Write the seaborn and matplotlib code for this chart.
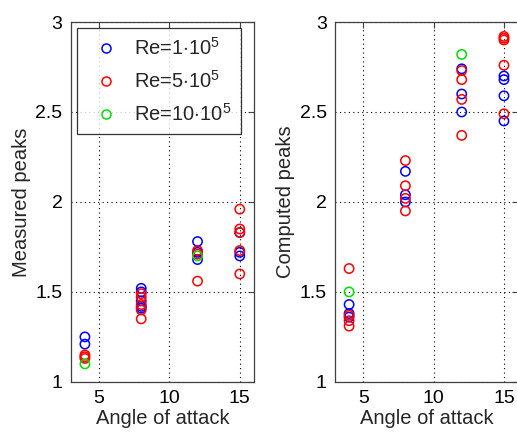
import numpy as np
import pandas as pd
import matplotlib
matplotlib.use("Agg")
import matplotlib.pyplot as plt
from matplotlib.lines import Line2D
import seaborn as sns

# Measured peaks (left panel)
meas_x_re1 = [4, 4, 8, 8, 8, 8, 8, 12, 12, 12, 15, 15, 15]
meas_y_re1 = [1.25, 1.21, 1.52, 1.50, 1.45, 1.42, 1.41, 1.78, 1.72, 1.68, 1.83, 1.72, 1.70]
meas_x_re5 = [4, 4, 4, 8, 8, 8, 8, 8, 12, 12, 12, 15, 15, 15, 15, 15]
meas_y_re5 = [1.15, 1.14, 1.13, 1.49, 1.47, 1.43, 1.40, 1.35, 1.73, 1.71, 1.56, 1.96, 1.85, 1.83, 1.73, 1.60]
meas_x_re10 = [4, 12]
meas_y_re10 = [1.10, 1.70]

# Computed peaks (right panel)
comp_x_re1 = [4, 4, 4, 8, 8, 8, 12, 12, 12, 15, 15, 15, 15]
comp_y_re1 = [1.43, 1.38, 1.36, 2.17, 2.04, 2.00, 2.74, 2.60, 2.50, 2.70, 2.68, 2.59, 2.45]
comp_x_re5 = [4, 4, 4, 4, 8, 8, 8, 8, 12, 12, 12, 12, 15, 15, 15, 15, 15]
comp_y_re5 = [1.63, 1.37, 1.34, 1.31, 2.23, 2.09, 2.02, 1.95, 2.73, 2.68, 2.57, 2.37, 2.92, 2.91, 2.90, 2.76, 2.49]
comp_x_re10 = [4, 12]
comp_y_re10 = [1.50, 2.82]

series = [r"Re=1$\cdot$10$^5$", r"Re=5$\cdot$10$^5$", r"Re=10$\cdot$10$^5$"]
colors = ["#0000ff", "#ff0000", "#00dd00"]
palette = dict(zip(series, colors))


def make_df(xs, ys):
    parts = []
    for name, x, y in zip(series, xs, ys):
        parts.append(pd.DataFrame({"angle": x, "peak": y, "Re": name}))
    return pd.concat(parts, ignore_index=True)


meas = make_df([meas_x_re1, meas_x_re5, meas_x_re10], [meas_y_re1, meas_y_re5, meas_y_re10])
comp = make_df([comp_x_re1, comp_x_re5, comp_x_re10], [comp_y_re1, comp_y_re5, comp_y_re10])

sns.set_style("white")
plt.rcParams["font.family"] = ["Liberation Sans", "DejaVu Sans"]
plt.rcParams["mathtext.fontset"] = "custom"
plt.rcParams["mathtext.rm"] = "Liberation Sans"

fig = plt.figure(figsize=(5.17, 4.32), dpi=100)
ax1 = fig.add_axes([0.137, 0.116, 0.354, 0.833])
ax2 = fig.add_axes([0.648, 0.116, 0.354, 0.833])

for ax, df, ylab in [(ax1, meas, "Measured peaks"), (ax2, comp, "Computed peaks")]:
    sns.scatterplot(data=df, x="angle", y="peak", hue="Re", palette=palette,
                    s=45, linewidth=1.1, legend=False, ax=ax)
    for coll in ax.collections:
        fc = coll.get_facecolors()
        coll.set_edgecolors(fc)
        coll.set_facecolors("none")
    ax.set_xlim(3, 16)
    ax.set_ylim(1, 3)
    ax.set_xticks([5, 10, 15])
    ax.set_yticks([1, 1.5, 2, 2.5, 3])
    ax.set_yticklabels(["1", "1.5", "2", "2.5", "3"])
    ax.grid(True, color="black", linestyle=(0, (1, 3)), linewidth=0.8)
    ax.tick_params(direction="in", top=True, right=True, labelsize=14, length=4,
                   color="#404040", labelcolor="black", pad=6)
    for sp in ax.spines.values():
        sp.set_color("#404040")
        sp.set_linewidth(0.9)
    ax.set_xlabel("Angle of attack", fontsize=14.5, labelpad=1)
    ax.set_ylabel(ylab, fontsize=14.5, labelpad=3)

handles = [Line2D([], [], marker="o", linestyle="none", markerfacecolor="none",
                  markeredgecolor=c, markersize=6.5, markeredgewidth=1.1) for c in colors]
leg = ax1.legend(handles, series, loc="upper left", bbox_to_anchor=(0.033, 0.983),
                 borderaxespad=0, fontsize=14.5, frameon=True, fancybox=False,
                 edgecolor="black", handletextpad=0.4, borderpad=0.45,
                 labelspacing=0.55, handlelength=2.0)
leg.get_frame().set_linewidth(0.9)

fig.savefig("out.png", dpi=100)
